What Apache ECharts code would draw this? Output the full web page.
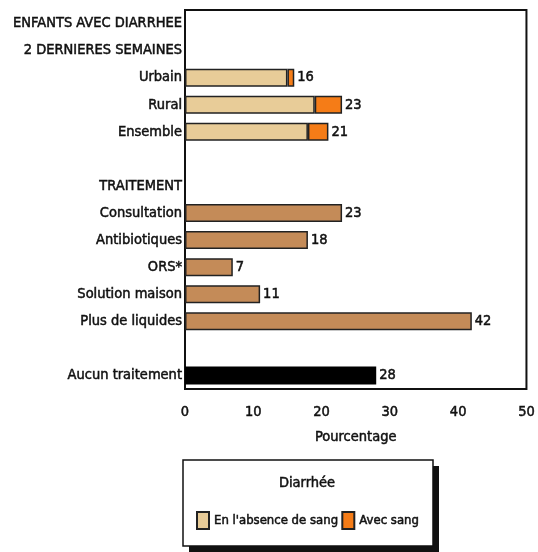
<!DOCTYPE html>
<html><head><meta charset="utf-8">
<script src="https://cdn.jsdelivr.net/npm/echarts@6/dist/echarts.min.js"></script>
<style>html,body{margin:0;padding:0;background:#fff}#c{width:538px;height:552px}</style>
</head><body><div id="c"></div>
<script>
const categories = ['ENFANTS AVEC DIARRHEE','2 DERNIERES SEMAINES','Urbain','Rural','Ensemble',' ','TRAITEMENT','Consultation','Antibiotiques','ORS*','Solution maison','Plus de liquides','  ','Aucun traitement'];
const sansSang = [null,null,15,19,18,null,null,null,null,null,null,null,null,null];
const avecSang = [null,null,1,4,3,null,null,null,null,null,null,null,null,null];
const totals = [null,null,16,23,21,null,null,null,null,null,null,null,null,null];
const traitement = [null,null,null,null,null,null,null,23,18,7,11,42,null,null];
const aucun = [null,null,null,null,null,null,null,null,null,null,null,null,null,28];
const xTicks = [0,10,20,30,40,50];
const legendNames = ["En l'absence de sang", 'Avec sang'];

const FONT = '"DejaVu Sans Condensed","Liberation Sans",sans-serif';
const T = {color:'#111', fontFamily:FONT, fontSize:14.5, textBorderColor:'#111', textBorderWidth:0.5};
const chart = echarts.init(document.getElementById('c'), null, {renderer:'canvas'});
const lbl = Object.assign({show:true, position:'right', distance:3}, T);
chart.setOption({
  animation:false,
  textStyle:{fontFamily:FONT},
  grid:{left:185, right:9, top:10, bottom:163, show:true, borderColor:'#111', borderWidth:2, backgroundColor:'transparent'},
  xAxis:{type:'value', min:xTicks[0], max:xTicks[xTicks.length-1], interval:10,
    splitLine:{show:false}, axisTick:{show:false},
    axisLine:{show:true, lineStyle:{color:'#111', width:1}},
    axisLabel:Object.assign({margin:16}, T),
    name:'Pourcentage', nameLocation:'middle', nameGap:41,
    nameTextStyle:Object.assign({}, T)},
  yAxis:{type:'category', data:categories, inverse:true,
    axisLine:{show:true, lineStyle:{color:'#111', width:2}}, axisTick:{show:false},
    axisLabel:Object.assign({margin:3}, T)},
  legend:{data:legendNames, left:191, top:506, itemWidth:12, itemHeight:17, itemGap:3,
    textStyle:Object.assign({}, T, {fontSize:13}), icon:'rect'},
  graphic:[
    {type:'rect', shape:{x:189, y:466, width:250, height:86}, style:{fill:'#111'}, z:-1},
    {type:'rect', shape:{x:183, y:460, width:250, height:86}, style:{fill:'#fff', stroke:'#111', lineWidth:1.5}, z:0},
    {type:'text', x:307, y:476, style:Object.assign({text:'Diarrhée', fill:'#111', font:'14.5px ' + FONT, textAlign:'center', stroke:'#111', lineWidth:0.5}), z:1}
  ],
  series:[
    {name:legendNames[0], type:'bar', stack:'t', data:sansSang, barWidth:18,
      itemStyle:{color:'#e8cc98', borderColor:'#222', borderWidth:1.5}},
    {name:legendNames[1], type:'bar', stack:'t', data:avecSang, barWidth:18,
      itemStyle:{color:'#f57c17', borderColor:'#222', borderWidth:1.5},
      label:Object.assign({}, lbl, {formatter:p=>totals[p.dataIndex]})},
    {name:'Traitement', type:'bar', stack:'t', data:traitement, barWidth:18,
      itemStyle:{color:'#c48b58', borderColor:'#222', borderWidth:1.5}, label:lbl},
    {name:'Aucun', type:'bar', stack:'t', data:aucun, barWidth:18,
      itemStyle:{color:'#000'}, label:lbl}
  ]
});
</script></body></html>
